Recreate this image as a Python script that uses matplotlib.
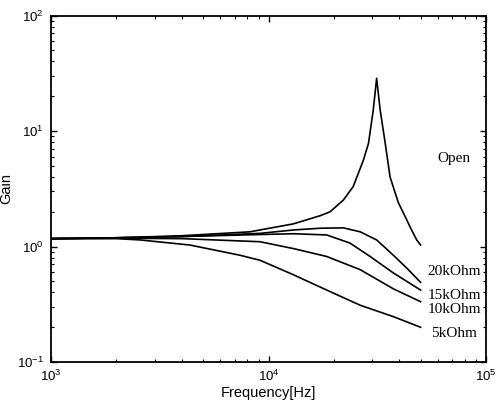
import numpy as np
import matplotlib
matplotlib.use("Agg")
import matplotlib.pyplot as plt

# gain curves: frequency [Hz] -> gain
freq_open = [1000, 2000, 4000, 8200, 13000, 17300, 19200, 22100, 24500, 27300, 28800, 30300, 31400,
             32600, 34400, 36200, 39500, 43200, 44700, 48000, 50000]
gain_open = [1.17, 1.19, 1.24, 1.34, 1.57, 1.85, 2.0, 2.53, 3.30, 5.6, 7.8, 15.2, 28.6,
             15.2, 7.8, 4.0, 2.4, 1.70, 1.48, 1.14, 1.03]

freq_20k = [1000, 2000, 4000, 9140, 13000, 17300, 22100, 26400, 31400, 37500, 43200, 50000]
gain_20k = [1.17, 1.19, 1.22, 1.30, 1.39, 1.44, 1.45, 1.34, 1.14, 0.84, 0.65, 0.49]

freq_15k = [1000, 2000, 4000, 9140, 13000, 18500, 23700, 29300, 37500, 50000]
gain_15k = [1.17, 1.19, 1.22, 1.27, 1.29, 1.26, 1.07, 0.82, 0.59, 0.42]

freq_10k = [1000, 2000, 4000, 9140, 13000, 18500, 26400, 37500, 50000]
gain_10k = [1.17, 1.18, 1.17, 1.10, 0.96, 0.82, 0.63, 0.43, 0.333]

freq_5k = [1000, 2000, 2570, 4350, 7400, 9140, 13000, 18500, 26400, 37500, 50000]
gain_5k = [1.17, 1.17, 1.14, 1.03, 0.84, 0.76, 0.57, 0.42, 0.31, 0.247, 0.2]

labels = ["Open", "20kOhm", "15kOhm", "10kOhm", "5kOhm"]
label_x = 71300
label_y = [5.83, 0.605, 0.380, 0.287, 0.177]

plt.rcParams['font.family'] = ["Liberation Sans", "DejaVu Sans"]
plt.rcParams['mathtext.fontset'] = 'custom'
plt.rcParams['mathtext.rm'] = 'Liberation Sans'
plt.rcParams['xtick.direction'] = 'in'
plt.rcParams['ytick.direction'] = 'in'
plt.rcParams['xtick.top'] = True
plt.rcParams['ytick.right'] = True


def main():
    fig = plt.figure(figsize=(4.97, 4.08), dpi=100)
    ax = fig.add_axes([0.1026, 0.1127, 0.8754, 0.8493])
    curves = [(freq_open, gain_open), (freq_20k, gain_20k), (freq_15k, gain_15k),
              (freq_10k, gain_10k), (freq_5k, gain_5k)]
    for f, g in curves:
        ax.plot(f, g, color="black", lw=1.2)
    for lab, y in zip(labels, label_y):
        ax.text(label_x, y, lab, ha="center", va="center",
                family="Liberation Serif", fontsize=11)
    ax.set_xscale("log")
    ax.set_yscale("log")
    ax.set_xlim(1e3, 1e5)
    ax.set_ylim(1e-1, 1e2)
    ax.set_xlabel("Frequency[Hz]", fontsize=10.5, labelpad=1)
    ax.set_ylabel("Gain", fontsize=10.5, labelpad=3)
    ax.tick_params(which="major", length=4, width=1, labelsize=9.5, pad=5)
    ax.tick_params(which="minor", length=2.5, width=0.8)
    for s in ax.spines.values():
        s.set_linewidth(1.3)
    fig.savefig("out.png", dpi=100)
    plt.close()


if __name__ == "__main__":
    main()
